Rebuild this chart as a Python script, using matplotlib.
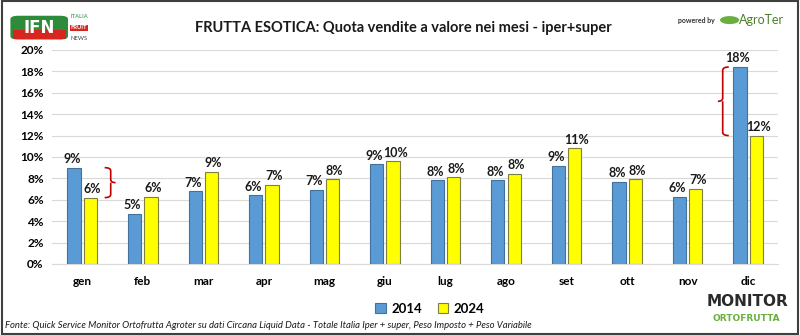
import matplotlib.pyplot as plt
import numpy as np
from matplotlib.patches import Rectangle, FancyBboxPatch, Circle, PathPatch
from matplotlib.path import Path

plt.rcParams['font.family'] = ['Lato', 'DejaVu Sans']

# Data (share of sales value, %)
months = ['gen', 'feb', 'mar', 'apr', 'mag', 'giu', 'lug', 'ago', 'set', 'ott', 'nov', 'dic']
val_2014 = [9.0, 4.7, 6.8, 6.4, 6.9, 9.3, 7.8, 7.8, 9.2, 7.7, 6.3, 18.4]
val_2024 = [6.2, 6.3, 8.6, 7.4, 7.9, 9.6, 8.1, 8.4, 10.8, 7.9, 7.0, 12.0]
yticks = list(range(0, 21, 2))

blue = '#5B9BD5'
yellow = '#FFFF00'

fig = plt.figure(figsize=(8, 3.35), dpi=100)
ax = fig.add_axes([0.065, 0.212, 0.908, 0.639])

x = np.arange(len(months))
w = 0.22
gap = 0.025
ax.bar(x - w / 2 - gap, val_2014, w, color=blue, edgecolor='#41719C', linewidth=0.8, label='2014', zorder=3)
ax.bar(x + w / 2 + gap, val_2024, w, color=yellow, edgecolor='#7F7F3F', linewidth=0.8, label='2024', zorder=3)

# data labels
for i in range(len(months)):
    ax.text(x[i] - w / 2 - gap - 0.035, val_2014[i] + 0.25, f'{val_2014[i]:.0f}%', ha='center', va='bottom',
            fontsize=9, fontweight='bold', color='#1a1a1a', zorder=4)
    ax.text(x[i] + w / 2 + gap + 0.035, val_2024[i] + 0.25, f'{val_2024[i]:.0f}%', ha='center', va='bottom',
            fontsize=9, fontweight='bold', color='#1a1a1a', zorder=4)

ax.set_xlim(-0.5, len(months) - 0.5)
ax.set_ylim(0, 20)
ax.set_yticks(yticks)
ax.set_yticklabels([f'{t}%' for t in yticks], fontsize=8.5, fontweight='bold')
ax.set_xticks(x)
ax.set_xticklabels(months, fontsize=8.5, fontweight='bold')
ax.tick_params(axis='y', length=0, pad=6)
ax.tick_params(axis='x', length=0, pad=9)
ax.grid(axis='y', color='#D9D9D9', linewidth=0.8, zorder=0)
for s in ['top', 'right', 'left']:
    ax.spines[s].set_visible(False)
ax.spines['bottom'].set_color('#D9D9D9')


def brace(ax, xb, y0, y1, depth, tip, color='#C00000'):
    # vertical curly brace, depth > 0 opens to the right
    ym = (y0 + y1) / 2
    verts = [(xb - depth, y1), (xb, y1), (xb, y1 - 0.3),
             (xb, ym + 0.3), (xb, ym), (xb + tip, ym),
             (xb, ym), (xb, ym - 0.3),
             (xb, y0 + 0.3), (xb, y0), (xb - depth, y0)]
    codes = [Path.MOVETO, Path.CURVE3, Path.CURVE3,
             Path.LINETO, Path.CURVE3, Path.CURVE3,
             Path.MOVETO, Path.LINETO,
             Path.LINETO, Path.CURVE3, Path.CURVE3]
    ax.add_patch(PathPatch(Path(verts, codes), fill=False, edgecolor=color, linewidth=1.2,
                           zorder=5, clip_on=False))


brace(ax, x[0] + 0.47, val_2024[0], val_2014[0], 0.1, 0.08)
brace(ax, x[11] - 0.42, val_2024[11], val_2014[11], -0.1, -0.08)

leg = ax.legend(loc='upper center', bbox_to_anchor=(0.52, -0.125), ncol=2, frameon=False,
                prop={'weight': 'bold', 'size': 9.5}, handlelength=0.8, handleheight=0.8,
                handletextpad=0.4, columnspacing=1.2)

fig.text(0.504, 0.915, 'FRUTTA ESOTICA: Quota vendite a valore nei mesi - iper+super',
         ha='center', va='center', fontsize=10.5, fontweight='bold', color='#1a1a1a')

fig.text(0.006, 0.027, 'Fonte: Quick Service Monitor Ortofrutta Agroter su dati Circana Liquid Data - '
         'Totale Italia Iper + super, Peso Imposto + Peso Variabile',
         ha='left', va='center', fontsize=6.8, style='italic', color='#1a1a1a')

# IFN logo (top left)
fig.patches.append(FancyBboxPatch((0.016, 0.885), 0.066, 0.065, boxstyle='round,pad=0.003,rounding_size=0.01',
                                  transform=fig.transFigure, facecolor='#2E8B3A', edgecolor='none'))
fig.patches.append(Rectangle((0.016, 0.885), 0.066, 0.025, transform=fig.transFigure,
                             facecolor='#D7261E', edgecolor='none'))
fig.text(0.049, 0.917, 'IFN', ha='center', va='center', fontsize=12, fontweight='black',
         color='white', family='DejaVu Sans')
fig.text(0.088, 0.952, 'ITALIA', fontsize=4.2, color='#2E8B3A', va='center', ha='left')
fig.text(0.088, 0.917, 'FRUIT', fontsize=4.2, color='white', va='center', ha='left', fontweight='bold',
         bbox=dict(facecolor='#D7261E', edgecolor='none', pad=0.5))
fig.text(0.088, 0.885, 'NEWS', fontsize=4.2, color='#444444', va='center', ha='left')

# AgroTer logo (top right)
fig.text(0.893, 0.94, 'powered by', ha='right', va='center', fontsize=5, fontweight='bold', color='#333333')
fig.patches.append(Circle((0.912, 0.94), 0.012, transform=fig.transFigure, facecolor='#6AAF3D',
                          edgecolor='none'))
fig.text(0.924, 0.94, 'AgroTer', ha='left', va='center', fontsize=9, color='#4D7F2A')

# Monitor Ortofrutta logo (bottom right)
fig.text(0.985, 0.1, 'MONITOR', ha='right', va='center', fontsize=11, fontweight='black',
         color='#2B2B2B', family='DejaVu Sans')
fig.text(0.975, 0.05, 'ORTOFRUTTA', ha='right', va='center', fontsize=6.5, fontweight='bold',
         color='#6AAF3D', family='DejaVu Sans')

# outer frame
fig.patches.append(Rectangle((0.002, 0.003), 0.996, 0.994, transform=fig.transFigure,
                             fill=False, edgecolor='#404040', linewidth=1.5))

fig.savefig('out.png', dpi=100)
